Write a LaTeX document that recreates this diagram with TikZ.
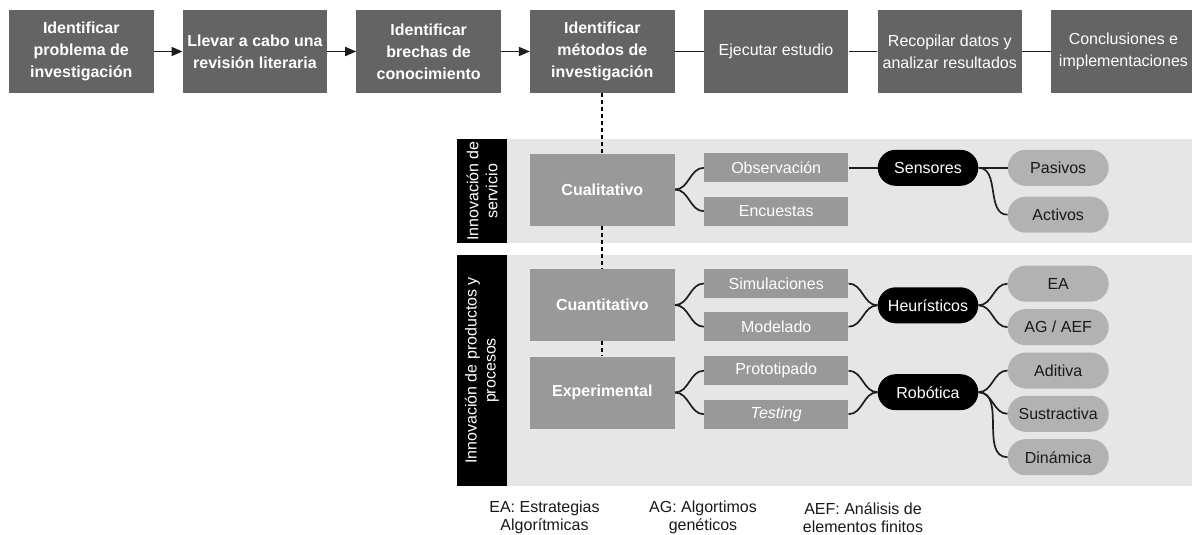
\documentclass[tikz,border=0pt]{standalone}
\usepackage{fontspec}
\setmainfont{Liberation Sans}
\usetikzlibrary{arrows.meta}

\definecolor{topgray}{RGB}{100,100,100}
\definecolor{midgray}{RGB}{153,153,153}
\definecolor{leafgray}{RGB}{178,178,178}
\definecolor{bandgray}{RGB}{230,230,230}
\definecolor{inkline}{RGB}{30,30,30}
\definecolor{inktext}{RGB}{25,25,25}

\begin{document}
\begin{tikzpicture}[x=1pt,y=-1pt,
  basefont/.style={font=\fontsize{16}{22}\selectfont},
  stepbox/.style={basefont, fill=topgray, text=white, minimum width=144.5pt,
    minimum height=83pt, inner sep=0pt, align=center},
  stepbold/.style={stepbox, font=\fontsize{16}{22}\selectfont\bfseries},
  methodbox/.style={fill=midgray, text=white, minimum width=145pt,
    minimum height=72pt, inner sep=0pt,
    font=\fontsize{16}{20}\selectfont\bfseries},
  toolbox/.style={basefont, fill=midgray, text=white, minimum width=144.3pt,
    minimum height=28.8pt, inner sep=0pt},
  hubpill/.style={basefont, fill=black, text=white, minimum width=100.6pt,
    minimum height=36pt, inner sep=0pt, rounded corners=18pt},
  leafpill/.style={basefont, fill=leafgray, text=inktext, minimum width=101pt,
    minimum height=36pt, inner sep=0pt, rounded corners=18pt},
  sidebar/.style={fill=black, text=white, rotate=90, inner sep=0pt,
    minimum height=49.4pt, align=center, font=\fontsize{16}{19}\selectfont},
  legendtext/.style={text=inktext, align=center, inner sep=0pt,
    font=\fontsize{16}{18}\selectfont},
  link/.style={draw=inkline, line width=1.7pt},
  flowarrow/.style={link, -{Triangle[length=11pt,width=9pt]}},
  dashline/.style={draw=black, line width=1.8pt, dash pattern=on 4pt off 3pt},
  branch/.style={link, out=0, in=180}
]
\useasboundingbox (0,0) rectangle (1192,535);

% research process steps
\node[stepbold] (t1) at (81.25,51.5)   {Identificar\\problema de\\investigación};
\node[stepbold] (t2) at (254.95,51.5)  {Llevar a cabo una\\revisión literaria};
\node[stepbold] (t3) at (428.65,51.5)  {Identificar\\brechas de\\conocimiento};
\node[stepbold] (t4) at (602.35,51.5)  {Identificar\\métodos de\\investigación};
\node[stepbox]  (t5) at (776.05,51.5)  {Ejecutar estudio};
\node[stepbox]  (t6) at (949.75,51.5)  {Recopilar datos y\\analizar resultados};
\node[stepbox]  (t7) at (1123.45,51.5) {Conclusiones e\\implementaciones};

\draw[flowarrow] (t1) -- (t2);
\draw[flowarrow] (t2) -- (t3);
\draw[flowarrow] (t3) -- (t4);
\draw[link] (t4) -- (t5);
\draw[link] (t5) -- (t6);
\draw[link] (t6) -- (t7);

% innovation bands
\fill[bandgray] (506.7,139) rectangle (1192,243.3);
\fill[bandgray] (506.7,255) rectangle (1192,486);
\node[sidebar, minimum width=104.3pt] (s1) at (482,191.15) {Innovación de\\servicio};
\node[sidebar, minimum width=231pt]   (s2) at (482,370.5)  {Innovación de productos y\\procesos};

% methods
\node[methodbox] (cual) at (602.35,189.5) {Cualitativo};
\node[methodbox] (cuan) at (602.35,305)   {Cuantitativo};
\node[methodbox] (expe) at (602.35,392.5) {Experimental};

\draw[dashline] (t4.south) -- (cual.north);
\draw[dashline] (cual.south) -- (cuan.north);
\draw[dashline] (cuan.south) -- (expe.north);

% techniques
\node[toolbox] (obs) at (776.2,167.8) {Observación};
\node[toolbox] (enc) at (776.2,211.2) {Encuestas};
\node[toolbox] (sim) at (776.2,283.5) {Simulaciones};
\node[toolbox] (mod) at (776.2,326.7) {Modelado};
\node[toolbox] (pro) at (776.2,370.7) {Prototipado};
\node[toolbox] (tes) at (776.2,414.2) {\textit{Testing}};

% tools
\node[hubpill] (sen) at (928,167.8) {Sensores};
\node[hubpill] (heu) at (928,305.3) {Heurísticos};
\node[hubpill] (rob) at (928,392.2) {Robótica};

% tool types
\node[leafpill] (pas) at (1058.2,167.8) {Pasivos};
\node[leafpill] (act) at (1058.2,214.7) {Activos};
\node[leafpill] (ea)  at (1058.2,283.7) {EA};
\node[leafpill] (ag)  at (1058.2,327.2) {AG / AEF};
\node[leafpill] (adi) at (1058.2,370.5) {Aditiva};
\node[leafpill] (sus) at (1058.2,413.8) {Sustractiva};
\node[leafpill] (din) at (1058.2,457.2) {Dinámica};

% branches
\draw (cual.east) edge[branch] (obs.west) edge[branch] (enc.west);
\draw (cuan.east) edge[branch] (sim.west) edge[branch] (mod.west);
\draw (expe.east) edge[branch] (pro.west) edge[branch] (tes.west);

\draw[link] (obs.east) -- (sen.west);
\draw (sim.east) edge[branch] (heu.west);
\draw (mod.east) edge[branch] (heu.west);
\draw (pro.east) edge[branch] (rob.west);
\draw (tes.east) edge[branch] (rob.west);

\draw[link] (sen.east) -- (pas.west);
\draw (sen.east) edge[branch] (act.west);
\draw (heu.east) edge[branch] (ea.west) edge[branch] (ag.west);
\draw (rob.east) edge[branch] (adi.west) edge[branch] (sus.west) edge[branch] (din.west);

% abbreviations
\node[legendtext] (l1) at (544.5,517.5) {EA: Estrategias\\Algorítmicas};
\node[legendtext] (l2) at (703,517.5)   {AG: Algortimos\\genéticos};
\node[legendtext] (l3) at (863,517.5)   {AEF: Análisis de\\elementos finitos};
\end{tikzpicture}
\end{document}
